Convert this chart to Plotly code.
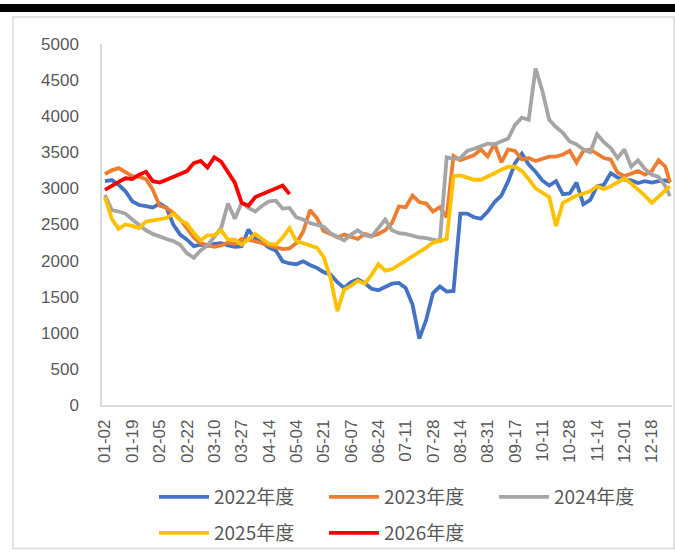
import plotly.graph_objects as go

# category index (trading-day position), sampled every 3 days
x_idx = list(range(0, 247, 3)) + [248]

tick_pos = list(range(0, 241, 12))
tick_labels = ["01-02", "01-19", "02-05", "02-22", "03-10", "03-27", "04-14",
               "05-04", "05-21", "06-07", "06-24", "07-11", "07-28", "08-14",
               "08-31", "09-17", "10-11", "10-28", "11-14", "12-01", "12-18"]

y2022 = [3100, 3115, 3050, 2960, 2820, 2770, 2755, 2735, 2790, 2730,
         2500, 2360, 2290, 2200, 2220, 2200, 2230, 2240, 2210, 2190,
         2200, 2430, 2300, 2250, 2180, 2140, 1990, 1960, 1950, 1990,
         1940, 1900, 1840, 1810, 1700, 1620, 1700, 1740, 1690, 1610,
         1590, 1640, 1680, 1690, 1620, 1390, 920, 1180, 1550, 1640,
         1570, 1580, 2650, 2650, 2600, 2580, 2680, 2810, 2900, 3100,
         3350, 3480, 3330, 3230, 3110, 3040, 3100, 2920, 2930, 3080,
         2780, 2840, 3030, 3050, 3210, 3150, 3120, 3110, 3075, 3100,
         3080, 3100, 3110, 3090]

y2023 = [3200, 3250, 3280, 3220, 3170, 3160, 3130, 2980, 2760, 2730,
         2660, 2570, 2440, 2320, 2240, 2210, 2190, 2210, 2250, 2230,
         2300, 2290, 2270, 2240, 2210, 2190, 2160, 2170, 2240, 2400,
         2700, 2590, 2410, 2370, 2320, 2360, 2330, 2300, 2370, 2340,
         2370, 2420, 2520, 2750, 2740, 2900, 2810, 2790, 2680, 2740,
         2600, 3450, 3390, 3420, 3460, 3540, 3440, 3620, 3360, 3540,
         3520, 3400, 3420, 3380, 3410, 3440, 3440, 3470, 3520, 3360,
         3520, 3540, 3480, 3420, 3400, 3220, 3170, 3200, 3240, 3190,
         3240, 3390, 3300, 3080]

y2024 = [2910, 2700, 2680, 2650, 2570, 2500, 2420, 2370, 2330, 2300,
         2270, 2220, 2100, 2040, 2140, 2210, 2330, 2450, 2790, 2580,
         2800, 2730, 2680, 2760, 2820, 2830, 2720, 2730, 2600, 2570,
         2520, 2490, 2470, 2380, 2330, 2280, 2360, 2420, 2350, 2330,
         2450, 2570, 2420, 2380, 2370, 2340, 2320, 2310, 2290, 2270,
         3430, 3410, 3420, 3520, 3550, 3580, 3620, 3610, 3650, 3690,
         3880, 3980, 3950, 4660, 4350, 3950, 3850, 3770, 3650, 3610,
         3540, 3500, 3750, 3640, 3560, 3420, 3540, 3300, 3390, 3270,
         3190, 3160, 3030, 2890]

y2025 = [2880, 2580, 2440, 2500, 2480, 2450, 2540, 2555, 2565, 2590,
         2650, 2560, 2510, 2380, 2280, 2350, 2350, 2420, 2290, 2290,
         2220, 2300, 2370, 2300, 2230, 2220, 2320, 2450, 2270, 2240,
         2210, 2180, 2050, 1760, 1300, 1600, 1650, 1720, 1680, 1800,
         1950, 1860, 1880, 1940, 2000, 2050, 2120, 2180, 2250, 2280,
         2300, 3170, 3180, 3150, 3120, 3120, 3160, 3210, 3260, 3300,
         3300, 3240, 3130, 3000, 2940, 2880, 2480, 2800, 2850, 2900,
         2930, 2960, 3030, 2990, 3030, 3080, 3140, 3070, 2990, 2900,
         2800, 2880, 2970, 3030]

y2026 = [2980, 3040, 3090, 3140, 3130, 3190, 3230, 3100, 3080, 3120,
         3160, 3190, 3240, 3350, 3380, 3290, 3430, 3370, 3230, 3080,
         2800, 2760, 2880, 2920, 2950, 2990, 3040, 2920]

series = [
    ("2022年度", y2022, "#4472C4", "legend"),
    ("2023年度", y2023, "#ED7D31", "legend"),
    ("2024年度", y2024, "#A5A5A5", "legend"),
    ("2025年度", y2025, "#FFC000", "legend2"),
    ("2026年度", y2026, "#FF0000", "legend2"),
]

fig = go.Figure()
for name, ys, color, lg in series:
    fig.add_trace(go.Scatter(
        x=x_idx[:len(ys)], y=ys, name=name, mode="lines",
        line=dict(color=color, width=3.8), legend=lg,
    ))

L, T, W, H = 102, 44, 570, 362
def px(xp):
    return (xp - L) / W
def py(yp):
    return (T + H - yp) / H

legend_font = dict(family="Noto Sans CJK SC", size=19, color="#595959")
leg_common = dict(orientation="h", xanchor="left", yanchor="middle",
                  font=legend_font, entrywidth=105, entrywidthmode="pixels",
                  itemwidth=50, bgcolor="rgba(0,0,0,0)")
fig.update_layout(
    width=675, height=554,
    margin=dict(l=L, r=675 - L - W, t=T, b=554 - T - H),
    plot_bgcolor="white", paper_bgcolor="white",
    font=dict(family="Liberation Sans", color="#595959"),
    legend=dict(x=px(154), y=py(497), **leg_common),
    legend2=dict(x=px(154), y=py(533), **leg_common),
    xaxis=dict(range=[-1.3, 248.9], tickmode="array", tickvals=tick_pos, ticktext=tick_labels,
               tickangle=-90, showgrid=False, zeroline=False, showline=True,
               linecolor="#d9d9d9", linewidth=1.5, ticks="",
               tickfont=dict(size=17, color="#595959"), ticklabelstandoff=6),
    yaxis=dict(range=[0, 5000], dtick=500, tick0=0, showgrid=False, zeroline=False,
               showline=True, linecolor="#d9d9d9", linewidth=1.5, ticks="",
               tickfont=dict(size=17, color="#595959"), ticklabelstandoff=18),
    shapes=[
        dict(type="rect", xref="paper", yref="paper",
             x0=px(0), x1=px(675), y0=py(12), y1=py(4),
             fillcolor="black", line=dict(width=0), layer="above"),
        dict(type="rect", xref="paper", yref="paper",
             x0=px(13), x1=px(674), y0=py(550), y1=py(17),
             fillcolor="rgba(0,0,0,0)", line=dict(color="#d9d9d9", width=1.5)),
    ],
)

fig.write_html("out.html", config={"displayModeBar": False},
               post_script="document.body.style.margin='0';")
